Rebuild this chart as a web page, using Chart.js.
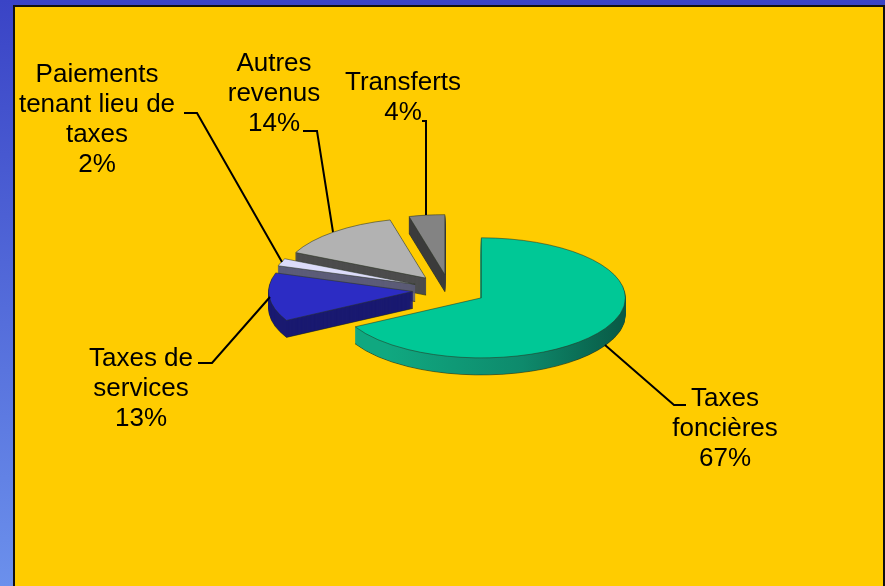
<!DOCTYPE html>
<html lang="fr">
<head>
<meta charset="utf-8">
<title>Revenus</title>
<script src="https://cdn.jsdelivr.net/npm/chart.js@4"></script>
<style>
  html, body { margin: 0; height: 100%; overflow: hidden; }
  body { background: linear-gradient(#3a44c6, #6b90ec); }
  #panel { position: absolute; left: 13px; top: 5px; width: 868px; height: 590px; background: #ffcc00; border: 2px solid #111; }
  #pie { position: absolute; left: 0; top: 0; }
</style>
</head>
<body>
<div id="panel"></div>
<canvas id="pie" width="885" height="586"></canvas>
<script>
const categories = [
  ["Taxes", "foncières"],
  ["Taxes de", "services"],
  ["Paiements", "tenant lieu de", "taxes"],
  ["Autres", "revenus"],
  ["Transferts"],
];
const values = [67, 13, 2, 14, 4];

const topColors = ["#00c896", "#2c2cc4", "#dcdcfa", "#b2b2b2", "#838383"];
const sideColors = ["#0e8a6d", "#191970", "#5c5c78", "#4c4c4c", "#3c3c3c"];

// label centre x / first line centre y, then the leader line
const labelX = [725, 141, 97, 274, 403];
const labelY = [398.5, 358.5, 74.5, 63.5, 82.5];
const leaders = [
  [[605, 345], [674, 405], [686, 405]],
  [[270, 297], [212, 363], [198, 363]],
  [[282, 262], [197, 113], [184, 113]],
  [[333, 232], [317, 131], [303, 131]],
  [[426, 215], [426, 121], [422, 121]],
];

const squash = 0.417;
const depth = 17;
const explode = 37;
const lineHeight = 30;

// chart.js shrinks its own arc offset, so the explode is done here
function drawArc(ctx, arc, dy, fill, border) {
  const saved = arc.options;
  const mid = (arc.startAngle + arc.endAngle) / 2;
  arc.options = { ...saved, backgroundColor: fill, borderColor: border };
  ctx.save();
  ctx.translate(arc.x, arc.y + dy);
  ctx.scale(1, squash);
  ctx.translate(-arc.x + Math.cos(mid) * explode, -arc.y + Math.sin(mid) * explode);
  arc.draw(ctx);
  ctx.restore();
  arc.options = saved;
}

const pie3d = {
  id: 'pie3d',
  beforeDatasetsDraw(chart) {
    const ctx = chart.ctx;
    const arcs = chart.getDatasetMeta(0).data;
    // back slices first, the big one comes last
    for (let i = arcs.length - 1; i >= 0; i--) {
      let side = sideColors[i];
      if (i === 0) {
        side = ctx.createLinearGradient(355, 0, 625, 0);
        side.addColorStop(0, '#10a880');
        side.addColorStop(0.5, '#0e8a6c');
        side.addColorStop(1, '#074a39');
      }
      drawArc(ctx, arcs[i], depth, side, 'rgba(20,30,20,0.8)');
      for (let d = depth - 1; d > 0; d--) {
        drawArc(ctx, arcs[i], d, side, side);
      }
      drawArc(ctx, arcs[i], 0, topColors[i], 'rgba(40,50,30,0.75)');
    }
    return false;
  },
  afterDraw(chart) {
    const ctx = chart.ctx;
    ctx.save();
    ctx.strokeStyle = '#000';
    ctx.lineWidth = 2;
    leaders.forEach((pts) => {
      ctx.beginPath();
      pts.forEach((p, i) => (i ? ctx.lineTo(p[0], p[1]) : ctx.moveTo(p[0], p[1])));
      ctx.stroke();
    });
    ctx.fillStyle = '#000';
    ctx.font = '26px "Liberation Sans", Arial, sans-serif';
    ctx.textAlign = 'center';
    ctx.textBaseline = 'middle';
    categories.forEach((lines, i) => {
      const all = [...lines, values[i] + '%'];
      all.forEach((t, j) => ctx.fillText(t, labelX[i], labelY[i] + j * lineHeight));
    });
    ctx.restore();
  },
};

new Chart(document.getElementById('pie').getContext('2d'), {
  type: 'pie',
  data: {
    labels: categories.map((c) => c.join(' ')),
    datasets: [{
      data: values,
      backgroundColor: topColors,
      borderWidth: 1,
    }],
  },
  options: {
    responsive: false,
    animation: false,
    radius: 144,
    layout: { padding: { left: 14, bottom: 6 } },
    events: [],
    plugins: { legend: { display: false }, tooltip: { enabled: false } },
  },
  plugins: [pie3d],
});
</script>
</body>
</html>
